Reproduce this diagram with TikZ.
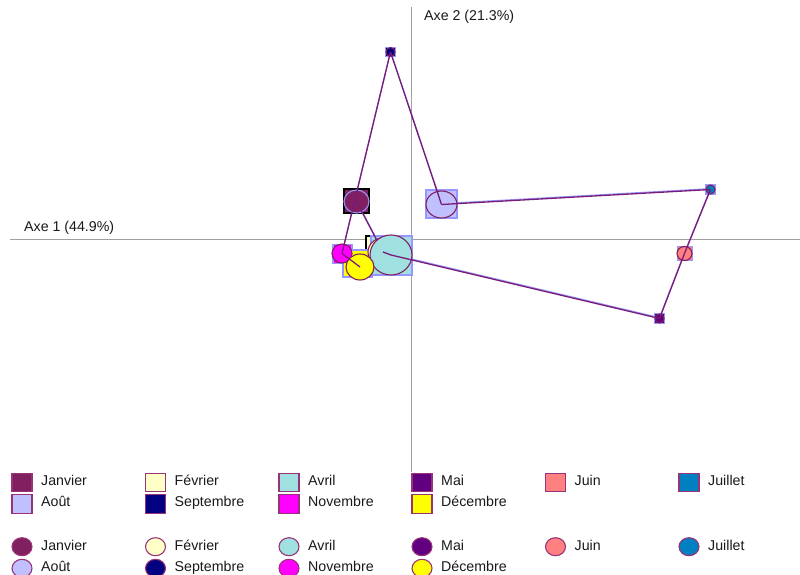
\documentclass[tikz,border=0pt]{standalone}
\usepackage{fontspec}
\setmainfont{Liberation Sans}
\usetikzlibrary{shapes.geometric}
\definecolor{cJan}{RGB}{128,32,96}
\definecolor{cFev}{RGB}{255,255,200}
\definecolor{cAvr}{RGB}{160,224,224}
\definecolor{cMai}{RGB}{96,0,128}
\definecolor{cJuin}{RGB}{255,128,128}
\definecolor{cJuil}{RGB}{0,128,192}
\definecolor{cAou}{RGB}{192,192,255}
\definecolor{cSep}{RGB}{0,0,128}
\definecolor{cNov}{RGB}{255,0,255}
\definecolor{cDec}{RGB}{255,255,0}
\definecolor{lgb}{RGB}{153,51,120}
\definecolor{sqb}{RGB}{150,150,255}
\definecolor{cib}{RGB}{128,32,96}
\definecolor{lnp}{RGB}{120,28,120}
\definecolor{axg}{RGB}{160,160,160}
\definecolor{txt}{RGB}{25,25,25}
\tikzset{
  psq/.style 2 args={rectangle, draw=sqb, line width=1.1pt, inner sep=0pt, outer sep=0pt, minimum width=#1, minimum height=#2},
  pci/.style 2 args={ellipse, draw=cib, line width=1.1pt, inner sep=0pt, outer sep=0pt, minimum width=#1, minimum height=#2},
  seg/.style={draw=lnp, line width=1.3pt},
  bseg/.style={draw=sqb, line width=1.1pt},
  axis/.style={draw=axg, line width=1.1pt},
  lbl/.style={anchor=base west, inner sep=0pt, text=txt, font=\fontsize{14.2}{16}\selectfont},
  lsq/.style={rectangle, draw=lgb, line width=1.1pt, inner sep=0pt, minimum width=20, minimum height=18.5},
  lci/.style={ellipse, draw=lgb, line width=1.1pt, inner sep=0pt, minimum width=20, minimum height=18},
}
\begin{document}
\begin{tikzpicture}[x=1pt,y=-1pt]
\useasboundingbox (0,0) rectangle (800,575);
% axes
\coordinate (ax1a) at (10,239.5);
\coordinate (ax1b) at (800,239.5);
\coordinate (ax2a) at (411.5,7);
\coordinate (ax2b) at (411.5,472);
\draw[axis] (ax1a) -- (ax1b);
\draw[axis] (ax2a) -- (ax2b);
\node[lbl] (lab1) at (24,231) {Axe 1 (44.9\%)};
\node[lbl] (lab2) at (424,21) {Axe 2 (21.3\%)};
% centres
\coordinate (pJan) at (356.5,201.5);
\coordinate (pFev) at (383,252);
\coordinate (pAvr) at (391,255);
\coordinate (pMai) at (659.5,318.5);
\coordinate (pJuin) at (684.5,253.5);
\coordinate (pJuil) at (710.5,189.5);
\coordinate (pAou) at (441.5,204.5);
\coordinate (pSep) at (390.5,52);
\coordinate (pNov) at (342,253.5);
\coordinate (pDec) at (360,267);
% blue series line
\draw[bseg, transform canvas={yshift=0.9pt}] (pJan) -- (pFev) -- (pAvr) -- (pMai) -- (pJuin) -- (pJuil) -- (pAou) -- (pSep) -- (pNov) -- (pDec);
% squares
\node[psq={25}{24}, fill=cJan, draw=black] (sJan) at (356.5,201) {};
\node[psq={34}{32}, fill=cFev, draw=black] (sFev) at (383,252) {};
\node[psq={41}{39}, fill=cAvr] (sAvr) at (391.5,255.5) {};
\node[psq={9.5}{9.5}, fill=cMai] (sMai) at (659.5,318.5) {};
\node[psq={15.5}{14.5}, fill=cJuin] (sJuin) at (685,253.5) {};
\node[psq={9}{9}, fill=cJuil] (sJuil) at (710.5,189.5) {};
\node[psq={31}{28}, fill=cAou] (sAou) at (441.5,204) {};
\node[psq={9.5}{8.5}, fill=cSep] (sSep) at (390.5,52) {};
\node[psq={19}{18.5}, fill=cNov] (sNov) at (342.5,254) {};
\node[psq={29}{27}, fill=cDec] (sDec) at (357.5,263.5) {};
% circles and path
\node[pci={25}{23}, fill=cJan, draw=sqb] (cJan) at (pJan) {};
\node[pci={30}{28}, fill=cFev] (cFev) at (pFev) {};
\draw[seg] (cJan.center) -- (cFev.center);
\node[pci={42}{40}, fill=cAvr] (cAvr) at (pAvr) {};
\draw[seg] (cFev.center) -- (cAvr.center);
\node[pci={9}{9}, fill=cMai] (cMai) at (pMai) {};
\draw[seg] (cAvr.center) -- (cMai.center);
\node[pci={15}{14}, fill=cJuin] (cJuin) at (pJuin) {};
\draw[seg] (cMai.center) -- (cJuin.center);
\node[pci={9}{9}, fill=cJuil] (cJuil) at (pJuil) {};
\draw[seg] (cJuin.center) -- (cJuil.center);
\node[pci={31}{27}, fill=cAou] (cAou) at (pAou) {};
\draw[seg] (cJuil.center) -- (cAou.center);
\node[pci={9}{9}, fill=cSep] (cSep) at (pSep) {};
\draw[seg] (cAou.center) -- (cSep.center);
\node[pci={20}{19}, fill=cNov] (cNov) at (pNov) {};
\draw[seg] (cSep.center) -- (cNov.center);
\node[pci={28}{26}, fill=cDec] (cDec) at (pDec) {};
\draw[seg] (cNov.center) -- (cDec.center);
% legend
\foreach \i/\col/\lab/\cx/\ro in {1/cJan/Janvier/12/0, 2/cFev/Février/145.5/0, 3/cAvr/Avril/279/0, 4/cMai/Mai/412/0, 5/cJuin/Juin/545.5/0, 6/cJuil/Juillet/679/0, 7/cAou/Août/12/1, 8/cSep/Septembre/145.5/1, 9/cNov/Novembre/279/1, 10/cDec/Décembre/412/1}{
  \node[lsq, fill=\col] (lsq\i) at (\cx+10, 482.5+21.5*\ro) {};
  \node[lbl] (lst\i) at (\cx+29, 485.7+21*\ro) {\lab};
  \node[lci, fill=\col] (lci\i) at (\cx+10, 546.7+21.6*\ro) {};
  \node[lbl] (lct\i) at (\cx+29, 550+21*\ro) {\lab};
}
\end{tikzpicture}
\end{document}
